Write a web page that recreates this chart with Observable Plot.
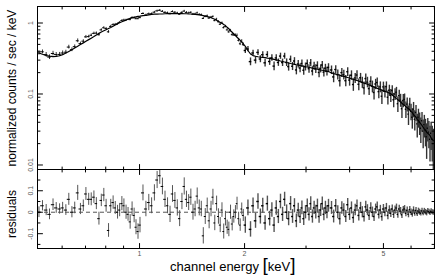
<!DOCTYPE html>
<html><head><meta charset="utf-8">
<script src="https://cdn.jsdelivr.net/npm/d3@7"></script>
<script src="https://cdn.jsdelivr.net/npm/@observablehq/plot@0.6"></script>
<style>
html,body{margin:0;padding:0;background:#fff;}
#wrap{position:relative;width:437px;height:276px;overflow:hidden;background:#fff;font-family:"Liberation Sans",Arial,sans-serif;}
#topbox,#botbox{position:absolute;left:0;}
#topbox{top:0;}
#botbox{top:169px;}
#xlab{position:absolute;left:170px;top:257px;font-size:13px;line-height:16px;color:#000;white-space:nowrap;}
#xlab .br{font-size:19px;line-height:16px;}
</style></head><body>
<div id="wrap"><div id="topbox"></div><div id="botbox"></div><div id="xlab">channel energy <span class="br">[</span>keV<span class="br">]</span></div></div>
<script>
// channel energies (keV), bin centres
const energy = [
0.515,0.527,0.540,0.552,0.565,0.577,0.590,0.602,0.615,0.627,0.640,0.652,0.665,0.677,0.690,0.702,0.715,0.727,0.740,0.752,0.765,0.777,0.790,0.802,0.815,0.827,0.840,0.852,0.865,0.877,0.890,0.902,0.915,0.927,0.940,0.952,0.965,0.977,0.990,
1.003,1.023,1.043,1.063,1.083,1.103,1.123,1.143,1.163,1.183,1.203,1.223,1.243,1.263,1.283,1.303,1.323,1.343,1.363,1.383,1.403,1.423,1.443,1.463,1.483,1.503,1.523,1.543,1.563,1.583,1.603,1.623,1.643,1.663,1.683,1.703,1.723,1.743,1.763,1.783,1.803,1.823,1.843,1.863,1.883,1.903,1.923,1.943,1.963,1.983,
2.010,2.045,2.080,2.115,2.150,2.185,2.220,2.255,2.290,2.325,2.360,2.395,2.430,2.465,2.500,2.535,2.570,2.605,2.640,2.675,2.710,2.745,2.780,2.815,2.850,2.885,2.920,2.955,2.990,3.025,3.060,3.095,3.130,3.165,3.200,3.235,3.270,3.305,3.340,3.375,3.410,3.445,3.480,
3.55,3.60,3.65,3.70,3.75,3.80,3.85,3.90,3.95,4.00,4.05,4.10,4.15,4.20,4.25,4.30,4.35,4.40,4.45,4.50,4.55,4.60,4.65,4.70,4.75,4.80,4.85,4.90,4.95,5.00,5.05,5.10,5.15,5.20,5.25,5.30,5.35,5.40,5.45,5.50,5.55,5.60,5.65,5.70,5.75,5.80,5.85,5.90,5.95,6.00,6.05,6.10,6.15,6.20,6.25,6.30,6.35,6.40,6.45,6.50,6.55,6.60,6.65,6.70,6.75,6.80,6.85,6.90,6.95];
// folded model (normalized counts/sec/keV) at each channel
const model = [
0.378,0.363,0.348,0.341,0.337,0.339,0.346,0.358,0.378,0.398,0.421,0.444,0.472,0.497,0.525,0.553,0.583,0.612,0.645,0.680,0.714,0.745,0.776,0.805,0.836,0.866,0.902,0.937,0.973,1.01,1.04,1.07,1.10,1.13,1.16,1.18,1.20,1.22,1.24,
1.25,1.27,1.28,1.30,1.32,1.33,1.33,1.34,1.34,1.35,1.36,1.36,1.36,1.36,1.36,1.36,1.36,1.35,1.35,1.34,1.34,1.33,1.32,1.31,1.30,1.29,1.27,1.25,1.23,1.21,1.19,1.16,1.13,1.09,1.06,1.02,0.99,0.95,0.92,0.87,0.83,0.78,0.74,0.70,0.67,0.63,0.60,0.57,0.54,0.51,
0.470,0.410,0.366,0.348,0.340,0.335,0.331,0.328,0.325,0.320,0.317,0.313,0.307,0.302,0.298,0.292,0.287,0.282,0.278,0.273,0.269,0.266,0.262,0.258,0.255,0.252,0.249,0.246,0.242,0.240,0.237,0.234,0.231,0.228,0.226,0.223,0.221,0.218,0.216,0.213,0.211,0.209,0.207,
0.198,0.194,0.191,0.187,0.184,0.180,0.177,0.174,0.171,0.167,0.164,0.161,0.158,0.155,0.152,0.149,0.146,0.142,0.140,0.137,0.134,0.131,0.128,0.125,0.123,0.120,0.118,0.116,0.113,0.111,0.109,0.107,0.105,0.103,0.101,0.097,0.093,0.090,0.086,0.083,0.080,0.077,0.074,0.071,0.069,0.066,0.064,0.062,0.060,0.057,0.055,0.051,0.049,0.047,0.044,0.042,0.040,0.038,0.036,0.034,0.032,0.031,0.029,0.028,0.027,0.026,0.024,0.023,0.022];
// residuals (data - model)
const resid = [
0,0.03,0.01,-0.01,0.035,0.02,0.015,0.02,0.01,0.06,0,0.02,0.09,0.015,0.03,0.085,0.06,0.06,0.07,0.04,-0.03,0.055,0.08,0.03,-0.085,0.03,0.045,0.02,0,0.01,0.04,0.03,0,-0.01,-0.045,0.015,-0.015,-0.07,-0.09,
-0.06,0.09,0.015,0.045,0.03,0.09,0.15,0.17,0.12,0.06,0.03,-0.01,0.085,0.055,0.02,-0.03,0.05,0.12,0.06,0.045,0.07,0,0.015,0.075,0.02,0.015,-0.11,-0.02,0.03,-0.04,0.015,0.07,-0.05,0.04,-0.02,-0.06,0.01,-0.09,-0.03,-0.07,-0.08,0,-0.055,-0.02,0,0.04,-0.03,-0.06,0.015,-0.015,
-0.06,0.02,-0.08,0.03,-0.04,0.05,-0.02,0.03,-0.05,0.04,-0.03,0.01,-0.06,0.02,-0.02,0.05,-0.01,0.06,0,-0.03,0.04,-0.02,0.03,-0.04,0.01,-0.02,0.02,-0.03,0,0.03,-0.01,0.04,-0.02,0.02,0,0.03,-0.02,0.01,0.04,-0.01,0.02,0,0.03,
0.02,-0.02,0.03,0,-0.03,0.02,0.01,-0.02,0.035,-0.01,0.02,-0.025,0.01,0.03,-0.015,0.02,0,-0.02,0.025,0.01,-0.015,0.02,0,-0.02,0.015,0.025,-0.01,0.01,-0.02,0.015,0,0.02,-0.015,0.01,-0.005,0.015,-0.01,0.01,0.02,-0.01,0.015,0.005,-0.012,0.01,0.015,-0.005,0.008,-0.01,0.012,0,-0.008,0.01,-0.005,0.008,-0.006,0.005,0,-0.005,0.006,-0.004,0.005,0,-0.004,0.005,0.002,-0.003,0.004,0,-0.002];
// 1-sigma errors
const err = [
0.025,0.024,0.026,0.025,0.027,0.025,0.024,0.026,0.025,0.028,0.026,0.027,0.035,0.026,0.027,0.03,0.028,0.03,0.029,0.028,0.03,0.029,0.031,0.03,0.032,0.03,0.031,0.03,0.032,0.031,0.033,0.032,0.033,0.032,0.034,0.033,0.034,0.035,0.036,
0.036,0.037,0.036,0.038,0.037,0.038,0.04,0.04,0.039,0.038,0.037,0.038,0.039,0.037,0.038,0.037,0.038,0.04,0.038,0.037,0.038,0.037,0.036,0.038,0.037,0.036,0.038,0.037,0.036,0.037,0.036,0.037,0.036,0.035,0.036,0.035,0.034,0.035,0.034,0.033,0.034,0.033,0.032,0.031,0.031,0.03,0.03,0.029,0.028,0.028,
0.038,0.037,0.036,0.036,0.035,0.036,0.035,0.035,0.034,0.035,0.034,0.034,0.035,0.034,0.033,0.034,0.033,0.033,0.034,0.033,0.033,0.032,0.033,0.032,0.032,0.033,0.032,0.032,0.031,0.032,0.031,0.032,0.031,0.031,0.032,0.031,0.031,0.030,0.031,0.030,0.031,0.030,0.030,
0.030,0.030,0.029,0.030,0.029,0.029,0.029,0.028,0.029,0.028,0.028,0.027,0.027,0.027,0.026,0.026,0.026,0.025,0.026,0.025,0.024,0.024,0.024,0.023,0.023,0.023,0.022,0.022,0.022,0.021,0.021,0.021,0.020,0.020,0.020,0.019,0.019,0.019,0.018,0.018,0.018,0.017,0.017,0.017,0.016,0.016,0.016,0.016,0.015,0.015,0.015,0.015,0.014,0.014,0.014,0.014,0.014,0.013,0.013,0.013,0.013,0.013,0.013,0.012,0.012,0.012,0.012,0.012,0.012];

// axis ticks
const xMajor = [1, 2, 5];
const xMajorLabels = ["1", "2", "5"];
const xMinor = [0.6, 0.7, 0.8, 0.9, 3, 4, 6, 7];
const yTopMajor = [0.01, 0.1, 1];
const yTopLabels = ["0.01", "0.1", "1"];
const yTopMinor = [0.02,0.03,0.04,0.05,0.06,0.07,0.08,0.09,0.2,0.3,0.4,0.5,0.6,0.7,0.8,0.9];
const yResMajor = [-0.1, 0, 0.1];
const yResLabels = ["-0.1", "0", "0.1"];
const yResMinor = [-0.15, -0.05, 0.05, 0.15];

const idx = d3.range(energy.length);
const nBins = energy.length;
const hw = energy.map((e, i) => {
  const a = energy[Math.max(i - 1, 0)], b = energy[Math.min(i + 1, nBins - 1)];
  return (b - a) / ((i === 0 || i === nBins - 1) ? 2 : 4);
});
const counts = idx.map(i => model[i] + resid[i]);
// denser channels above 2 keV are drawn with a heavier pen
const lowIdx = idx.filter(i => energy[i] < 2);
const highIdx = idx.filter(i => energy[i] >= 2);

const tickShape = {draw(ctx, l) { ctx.moveTo(0, 0); ctx.lineTo(0, -l); }};
function vt(vals, anchor, len) {
  const rot = {left: 90, right: -90, top: 180, bottom: 0}[anchor];
  const ch = (anchor === "left" || anchor === "right") ? {y: d => d} : {x: d => d};
  return Plot.vector(vals, {...ch, frameAnchor: anchor, length: len, rotate: rot, anchor: "start", shape: tickShape, stroke: "#000", strokeWidth: 1});
}
function frameTicks(xMaj, xMin, yMaj, yMin) {
  const m = [];
  for (const a of ["top", "bottom"]) { m.push(vt(xMaj, a, 5), vt(xMin, a, 2.5)); }
  for (const a of ["left", "right"]) { m.push(vt(yMaj, a, 5), vt(yMin, a, 2.5)); }
  return m;
}
function errMarks(ys, barColor) {
  const m = [];
  for (const [set, w] of [[lowIdx, 1], [highIdx, 1.4]]) {
    m.push(Plot.ruleX(set, {x: i => energy[i], y1: i => ys.lo(i), y2: i => ys.hi(i), stroke: barColor, strokeWidth: w, clip: true}));
    m.push(Plot.ruleY(set, {y: i => ys.c(i), x1: i => energy[i] - hw[i], x2: i => energy[i] + hw[i], stroke: "#000", strokeWidth: w, clip: true}));
  }
  return m;
}
const fontFam = "'Liberation Sans', Arial, sans-serif";
const xScale = {type: "log", domain: [0.51, 7.004], axis: null};

const topPlot = Plot.plot({
  width: 437, height: 170,
  marginTop: 6, marginBottom: 1, marginLeft: 37, marginRight: 3,
  style: {fontFamily: fontFam, background: "#fff", overflow: "visible"},
  x: xScale,
  y: {type: "log", domain: [0.00864, 1.708], axis: null},
  marks: [
    ...errMarks({lo: i => Math.max(counts[i] - err[i], 0.005), hi: i => counts[i] + err[i], c: i => counts[i]}, "#333"),
    Plot.line(idx, {x: i => energy[i], y: i => model[i], stroke: "#000", strokeWidth: 1.2, clip: true}),
    Plot.frame({stroke: "#000", strokeWidth: 1}),
    ...frameTicks(xMajor, xMinor, yTopMajor, yTopMinor),
    Plot.text(yTopMajor, {y: d => d, text: (d, i) => yTopLabels[i], frameAnchor: "left", dx: -7, rotate: -90, textAnchor: "middle", fontSize: 7, fill: "#555"}),
    Plot.text(["normalized counts / sec / keV"], {frameAnchor: "left", dx: -25, rotate: -90, textAnchor: "middle", fontSize: 12, fill: "#000"})
  ]
});
document.getElementById("topbox").appendChild(topPlot);

const botPlot = Plot.plot({
  width: 437, height: 107,
  marginTop: 0, marginBottom: 28, marginLeft: 37, marginRight: 3,
  style: {fontFamily: fontFam, background: "transparent", overflow: "visible"},
  x: xScale,
  y: {domain: [-0.169, 0.199], axis: null},
  marks: [
    Plot.ruleY([0], {stroke: "#555", strokeDasharray: "4,3", strokeWidth: 1}),
    ...errMarks({lo: i => resid[i] - err[i], hi: i => resid[i] + err[i], c: i => resid[i]}, "#555"),
    Plot.frame({stroke: "#000", strokeWidth: 1}),
    ...frameTicks(xMajor, xMinor, yResMajor, yResMinor),
    Plot.text(yResMajor, {y: d => d, text: (d, i) => yResLabels[i], frameAnchor: "left", dx: -7, rotate: -90, textAnchor: "middle", fontSize: 7, fill: "#555"}),
    Plot.text(xMajor, {x: d => d, text: (d, i) => xMajorLabels[i], frameAnchor: "bottom", dy: 7, fontSize: 7, fill: "#555"}),
    Plot.text(["residuals"], {frameAnchor: "left", dx: -25, dy: 5, rotate: -90, textAnchor: "middle", fontSize: 12, fill: "#000"})
  ]
});
document.getElementById("botbox").appendChild(botPlot);
</script>
</body></html>
